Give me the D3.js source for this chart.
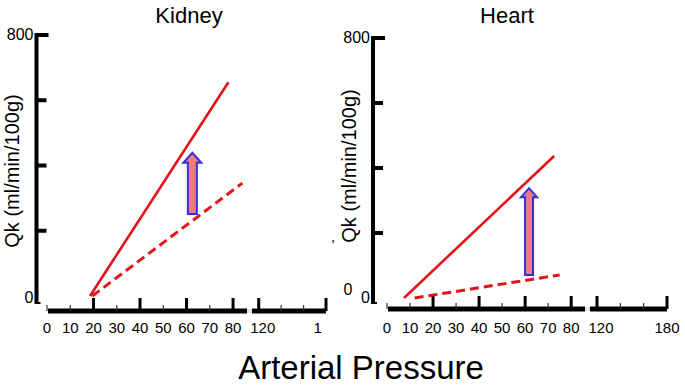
<!DOCTYPE html>
<html>
<head>
<meta charset="utf-8">
<script src="https://cdn.jsdelivr.net/npm/d3@7"></script>
<style>
  html, body { margin: 0; padding: 0; background: #fff; }
  svg { display: block; font-family: "Liberation Sans", Arial, sans-serif; }
</style>
</head>
<body>
<svg id="chart" width="685" height="385"></svg>
<script>
// ---------- data ----------
const panelTitles = ["Kidney", "Heart"];
const yTickValues = [0, 200, 400, 600, 800];
const yTickLabels = ["0", "", "", "", "800"];
const xLabelValues = [0, 10, 20, 30, 40, 50, 60, 70, 80, 120, 180];
const xMajorTicks = [20, 40, 60, 80, 120, 180];
const xMinorTicks = [0, 10, 30, 50, 70, 140, 160];
// solid = after autoregulation shift, dashed = baseline (pressure mmHg, Qk)
const kidneySolid = [[18.5, 0], [78, 655]];
const kidneyDashed = [[19.5, 0], [84, 346]];
const heartSolid = [[7.4, 0], [72.6, 437]];
const heartDashed = [[12, 0], [75, 71]];
const arrowPressure = [62.5, 61.7];
const arrowFrom = [251, 71];
const arrowTo = [439, 338];
const yAxisTitle = "Qk (ml/min/100g)";
const xAxisTitle = "Arterial Pressure";

// ---------- layout ----------
const svg = d3.select("#chart");
const panels = [
  { title: panelTitles[0], solid: kidneySolid, dashed: kidneyDashed,
    axisX: 36.5, axisY: 311, yRange: [296, 35], yTop: 33, yBottom: 304,
    xDomain: [0, 86, 114, 180], xRange: [47, 247, 252, 326],
    titleX: 189, yTitleX: 12, yTitleY: 171, clipRight: 322, arrowHalf: 4.5, headHalf: 9, headH: 10 },
  { title: panelTitles[1], solid: heartSolid, dashed: heartDashed,
    axisX: 373, axisY: 309, yRange: [298, 38], yTop: 36, yBottom: 304,
    xDomain: [0, 86, 114, 180], xRange: [387, 585, 590, 667],
    titleX: 507, yTitleX: 349, yTitleY: 166, clipRight: 685, arrowHalf: 4, headHalf: 8, headH: 9 }
];

const red = "#e2131a";

panels.forEach((p, i) => {
  const x = d3.scaleLinear().domain(p.xDomain).range(p.xRange);
  const y = d3.scaleLinear().domain([0, 800]).range(p.yRange);
  const g = svg.append("g");

  const clipId = "clip" + i;
  svg.append("clipPath").attr("id", clipId)
    .append("rect").attr("x", 0).attr("y", 0).attr("width", p.clipRight).attr("height", 385);

  // title
  g.append("text").attr("x", p.titleX).attr("y", 23).attr("text-anchor", "middle")
    .attr("font-size", 22).text(p.title);

  // y axis title
  g.append("text")
    .attr("transform", `translate(${p.yTitleX + 7},${p.yTitleY}) rotate(-90)`)
    .attr("text-anchor", "middle").attr("font-size", 20).text(yAxisTitle);

  // y axis line
  g.append("line").attr("x1", p.axisX).attr("x2", p.axisX)
    .attr("y1", p.yTop).attr("y2", p.yBottom)
    .attr("stroke", "#000").attr("stroke-width", 4);
  // y ticks
  g.selectAll(".yt").data(yTickValues.filter(v => v > 0)).join("line")
    .attr("x1", p.axisX).attr("x2", d => p.axisX + (d === 800 ? 12 : 10))
    .attr("y1", d => y(d)).attr("y2", d => y(d))
    .attr("stroke", "#000").attr("stroke-width", 4);
  // y zero hook
  g.append("line").attr("x1", p.axisX).attr("x2", p.axisX + 4)
    .attr("y1", p.yBottom - 1).attr("y2", p.yBottom - 1)
    .attr("stroke", "#000").attr("stroke-width", 2);
  // y tick labels
  g.selectAll(".yl").data(yTickValues.map((v, k) => ({ v, t: yTickLabels[k] })).filter(d => d.t))
    .join("text")
    .attr("x", p.axisX - 3).attr("y", d => (d.v === 0 ? p.yBottom - 6 : y(d.v)) + 5)
    .attr("text-anchor", "end").attr("font-size", 16).text(d => d.t);

  // x axis line (broken)
  const brk0 = p.xRange[1], brk1 = p.xRange[2];
  g.append("line").attr("x1", p.xRange[0] + 1).attr("x2", brk0)
    .attr("y1", p.axisY).attr("y2", p.axisY).attr("stroke", "#000").attr("stroke-width", 5);
  g.append("line").attr("x1", brk1).attr("x2", p.xRange[3])
    .attr("y1", p.axisY).attr("y2", p.axisY).attr("stroke", "#000").attr("stroke-width", 5);
  [brk0 + 1.2, brk1 - 1.2].forEach(bx => {
    g.append("line").attr("x1", bx).attr("x2", bx)
      .attr("y1", p.axisY - 2).attr("y2", p.axisY + 2)
      .attr("stroke", "#aaa").attr("stroke-width", 0.8);
  });
  // major ticks
  g.selectAll(".xM").data(xMajorTicks).join("line")
    .attr("x1", d => x(d)).attr("x2", d => x(d))
    .attr("y1", p.axisY).attr("y2", p.axisY - 13)
    .attr("stroke", "#000").attr("stroke-width", 3);
  // minor ticks
  g.selectAll(".xm").data(xMinorTicks).join("line")
    .attr("x1", d => x(d)).attr("x2", d => x(d))
    .attr("y1", p.axisY).attr("y2", p.axisY - 6)
    .attr("stroke", "#333").attr("stroke-width", 1.2);
  // x labels
  g.selectAll(".xl").data(xLabelValues).join("text")
    .attr("x", d => x(d) + (d === 120 ? 4 : 0)).attr("y", 333)
    .attr("text-anchor", "middle").attr("font-size", 15)
    .attr("clip-path", `url(#${clipId})`)
    .text(d => d);

  // lines
  const line = d3.line().x(d => x(d[0])).y(d => y(d[1]));
  g.append("path").attr("d", line(p.solid)).attr("fill", "none")
    .attr("stroke", red).attr("stroke-width", 2.6);
  g.append("path").attr("d", line(p.dashed)).attr("fill", "none")
    .attr("stroke", red).attr("stroke-width", 3).attr("stroke-dasharray", "9,5");

  // arrow
  const ax = x(arrowPressure[i]), yb = y(arrowFrom[i]), yt = y(arrowTo[i]);
  const sw = p.arrowHalf, hw = p.headHalf, hh = p.headH;
  const pts = [[ax - sw, yb], [ax - sw, yt + hh], [ax - hw, yt + hh], [ax, yt],
               [ax + hw, yt + hh], [ax + sw, yt + hh], [ax + sw, yb]];
  g.append("path").attr("d", d3.line()(pts) + "Z")
    .attr("fill", "#ee7b7e").attr("stroke", "#2f2fe6").attr("stroke-width", 2)
    .attr("stroke-linejoin", "miter");
});

// stray marks of the heart panel
svg.append("text").attr("x", 348).attr("y", 295).attr("text-anchor", "middle")
  .attr("font-size", 16).text("0");
svg.append("text").attr("x", 333).attr("y", 250).attr("text-anchor", "middle")
  .attr("font-size", 14).text("'");

// common x axis title
svg.append("text").attr("x", 361).attr("y", 379).attr("text-anchor", "middle")
  .attr("font-size", 33).text(xAxisTitle);
</script>
</body>
</html>
